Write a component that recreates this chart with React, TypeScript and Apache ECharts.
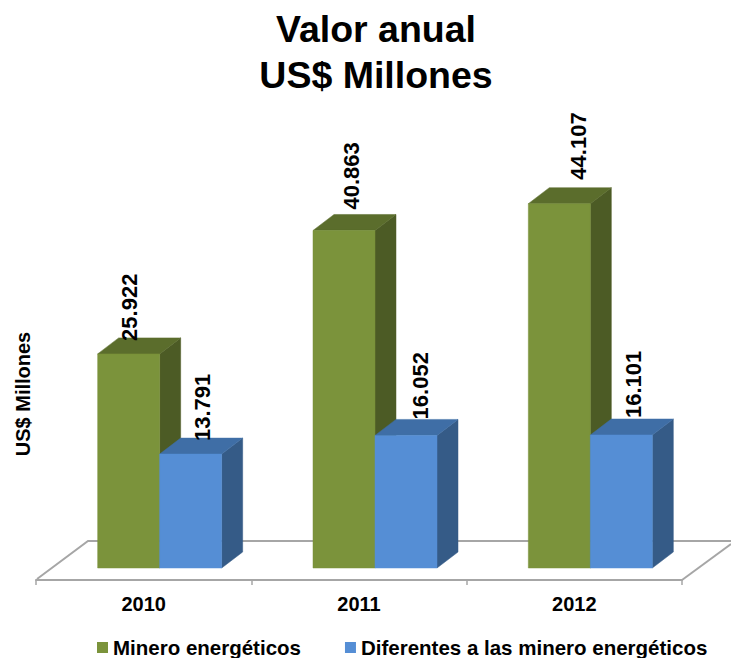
import React, { useEffect, useRef } from "react";
import * as echarts from "echarts";

const categories = ["2010", "2011", "2012"];
const mineroName = "Minero energéticos";
const diferentesName = "Diferentes a las minero energéticos";
const minero = [25922, 40863, 44107];
const diferentes = [13791, 16052, 16101];
const titleText = "Valor anual\nUS$ Millones";
const yName = "US$ Millones";

const FONT = '"Liberation Sans", Arial, sans-serif';
const BAR_W = 62;
const DEPTH_X = 21;
const DEPTH_Y = 16;
const GROUP_SHIFT = 16;
const GREEN = { front: "#7B933B", top: "#5B6D2C", side: "#4C5B25" };
const BLUE = { front: "#558ED5", top: "#3F6EA6", side: "#355B87" };
// hand offsets of the value labels, as in the original slide
const minShiftX = [1, 7, 19];
const minGap = [13, 21, 24];
const difShiftX = [12, 14, 12];
const difGap = [13, 16, 17];

const fmt = (v: number) => {
  const s = String(v);
  return s.slice(0, -3) + "." + s.slice(-3);
};

function barRenderer(seriesPos: number, colors: typeof GREEN, shiftX: number[], gap: number[]) {
  return (_params: any, api: any) => {
    const idx = api.value(0);
    const val = api.value(1);
    const [cx, yTop] = api.coord([idx, val]);
    const [, yBase] = api.coord([idx, 0]);
    const x0 = cx + GROUP_SHIFT + (seriesPos === 0 ? -BAR_W : 0);
    const x1 = x0 + BAR_W;
    const poly = (points: number[][], fill: string) => ({
      type: "polygon",
      shape: { points },
      style: { fill, stroke: fill, lineWidth: 0.5 },
    });
    return {
      type: "group",
      children: [
        poly(
          [
            [x1, yTop],
            [x1 + DEPTH_X, yTop - DEPTH_Y],
            [x1 + DEPTH_X, yBase - DEPTH_Y],
            [x1, yBase],
          ],
          colors.side
        ),
        poly(
          [
            [x0, yTop],
            [x0 + DEPTH_X, yTop - DEPTH_Y],
            [x1 + DEPTH_X, yTop - DEPTH_Y],
            [x1, yTop],
          ],
          colors.top
        ),
        poly(
          [
            [x0, yTop],
            [x1, yTop],
            [x1, yBase],
            [x0, yBase],
          ],
          colors.front
        ),
        {
          type: "text",
          x: x0 + BAR_W / 2 + shiftX[idx],
          y: yTop - gap[idx],
          rotation: Math.PI / 2,
          z2: 10,
          style: {
            text: fmt(val),
            fill: "#000",
            font: `bold 22px ${FONT}`,
            align: "left",
            verticalAlign: "middle",
          },
        },
      ],
    };
  };
}

export default function App() {
  const ref = useRef<HTMLDivElement>(null);
  useEffect(() => {
    const chart = echarts.init(ref.current!, undefined, { renderer: "svg" });
    chart.setOption({
      animation: false,
      backgroundColor: "#fff",
      title: {
        text: titleText,
        left: 371,
        top: 1,
        textAlign: "center",
        textStyle: { fontFamily: FONT, fontWeight: "bold", fontSize: 37.5, lineHeight: 46, color: "#000" },
      },
      grid: { left: 36, right: 49, top: 155, bottom: 90 },
      xAxis: {
        type: "category",
        data: categories,
        offset: 12,
        axisLine: { show: true, onZero: false, lineStyle: { color: "#A6A6A6", width: 2 } },
        axisTick: { show: true, length: 5, lineStyle: { color: "#A6A6A6", width: 1.5 } },
        axisLabel: { color: "#000", fontFamily: FONT, fontWeight: "bold", fontSize: 20, margin: 14 },
      },
      yAxis: { type: "value", min: 0, max: 50000, show: false },
      legend: {
        left: 92,
        top: 632,
        itemWidth: 11,
        itemHeight: 11,
        itemGap: 44,
        icon: "rect",
        textStyle: { color: "#000", fontFamily: FONT, fontWeight: "bold", fontSize: 20.5 },
        data: [mineroName, diferentesName],
      },
      graphic: [
        {
          type: "polyline",
          z: 0,
          shape: { points: [[37, 579], [88, 541], [731, 541]] },
          style: { stroke: "#A6A6A6", lineWidth: 2, fill: "none" },
        },
        {
          type: "line",
          z: 0,
          shape: { x1: 682, y1: 580, x2: 731, y2: 544 },
          style: { stroke: "#A6A6A6", lineWidth: 2 },
        },
        {
          type: "text",
          x: 23,
          y: 394,
          rotation: Math.PI / 2,
          style: {
            text: yName,
            fill: "#000",
            font: `bold 20px ${FONT}`,
            align: "center",
            verticalAlign: "middle",
          },
        },
      ],
      series: [
        {
          type: "custom",
          name: mineroName,
          z: 3,
          itemStyle: { color: GREEN.front },
          encode: { x: 0, y: 1 },
          data: minero.map((v, i) => [i, v]),
          renderItem: barRenderer(0, GREEN, minShiftX, minGap),
        },
        {
          type: "custom",
          name: diferentesName,
          z: 4,
          itemStyle: { color: BLUE.front },
          encode: { x: 0, y: 1 },
          data: diferentes.map((v, i) => [i, v]),
          renderItem: barRenderer(1, BLUE, difShiftX, difGap),
        },
      ],
    });
    return () => chart.dispose();
  }, []);
  return (
    <div
      ref={ref}
      style={{ position: "fixed", left: 0, top: 0, width: 731, height: 658 }}
    />
  );
}
